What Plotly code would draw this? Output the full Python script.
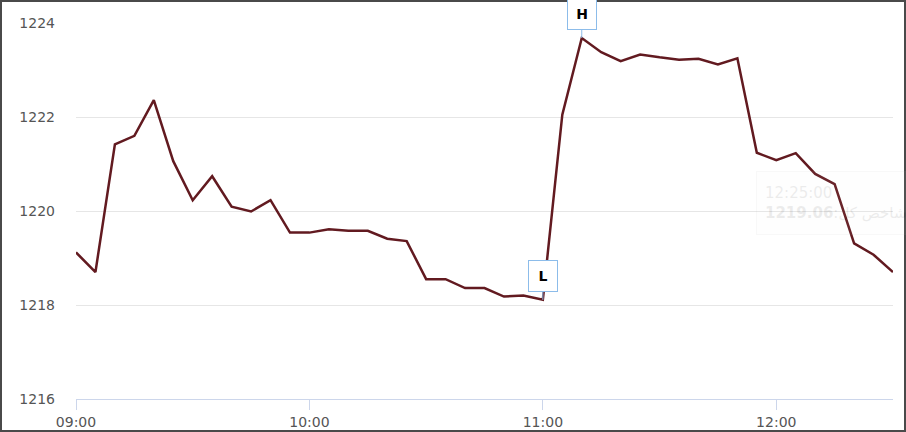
import plotly.graph_objects as go

# 5-minute index values
times = [
    "09:00", "09:05", "09:10", "09:15", "09:20", "09:25", "09:30", "09:35", "09:40", "09:45",
    "09:50", "09:55", "10:00", "10:05", "10:10", "10:15", "10:20", "10:25", "10:30", "10:35",
    "10:40", "10:45", "10:50", "10:55", "11:00", "11:05", "11:10", "11:15", "11:20", "11:25",
    "11:30", "11:35", "11:40", "11:45", "11:50", "11:55", "12:00", "12:05", "12:10", "12:15",
    "12:20", "12:25", "12:30",
]
values = [
    1219.12, 1218.70, 1221.42, 1221.60, 1222.36, 1221.06, 1220.23, 1220.74, 1220.09, 1219.99,
    1220.23, 1219.54, 1219.54, 1219.61, 1219.58, 1219.58, 1219.41, 1219.36, 1218.55, 1218.55,
    1218.36, 1218.36, 1218.18, 1218.20, 1218.11, 1222.05, 1223.68, 1223.38, 1223.19, 1223.33,
    1223.27, 1223.22, 1223.24, 1223.12, 1223.25, 1221.24, 1221.08, 1221.23, 1220.79, 1220.57,
    1219.31, 1219.07, 1218.70,
]
tick_vals = ["09:00", "10:00", "11:00", "12:00"]
y_ticks = [1216, 1218, 1220, 1222, 1224]
high_label, low_label = "H", "L"
tooltip_time = "12:25:00"
tooltip_value = "1219.06"
tooltip_name = "شاخص کل"

day = "2024-01-01 "
x = [day + t for t in times]

fig = go.Figure()
fig.add_trace(go.Scatter(
    x=x, y=values, mode="lines",
    line=dict(color="#621a20", width=2.5),
    hoverinfo="skip",
))

# high / low flags
hi = values.index(max(values))
lo = values.index(min(values))
for idx, lab in [(hi, high_label), (lo, low_label)]:
    fig.add_annotation(
        x=x[idx], y=values[idx], text="<b>" + lab + "</b>",
        showarrow=True, arrowhead=0, arrowwidth=1, arrowcolor="#8cbcea",
        ax=0, ay=-24, width=26, height=28, borderpad=1,
        bordercolor="#8cbcea", borderwidth=1, bgcolor="white",
        font=dict(family="DejaVu Sans", size=14, color="black"),
    )

# faded tooltip left over from hover
L, R, T, B = 76, 13, 23, 33
W, H = 906 - L - R, 432 - T - B
fig.add_annotation(
    xref="paper", yref="paper",
    x=(756 - L) / W, y=1 - (171 - T) / H,
    xanchor="left", yanchor="top", showarrow=False, align="left",
    text=tooltip_time + "<br><b>" + tooltip_value + "</b>:" + tooltip_name,
    width=170, height=46, borderpad=8,
    bgcolor="rgba(247,247,247,0.5)", bordercolor="#bbbbbb", borderwidth=1,
    font=dict(family="DejaVu Sans", size=15, color="#333333"),
    opacity=0.09,
)

# outer frame
fig.add_shape(
    type="rect", xref="paper", yref="paper",
    x0=-L / W, x1=(906 - L) / W, y0=-B / H, y1=1 + T / H,
    line=dict(color="#4a4a4a", width=4), layer="above",
)

fig.update_layout(
    width=906, height=432,
    margin=dict(l=L, r=R, t=T, b=B, autoexpand=False),
    paper_bgcolor="white", plot_bgcolor="white",
    showlegend=False,
    font=dict(family="DejaVu Sans", size=14, color="#555555"),
)
fig.update_xaxes(
    range=[day + "09:00", day + "12:30"],
    tickvals=[day + t for t in tick_vals], ticktext=tick_vals,
    showgrid=False, zeroline=False,
    showline=True, linecolor="#ccd6eb", linewidth=1,
    ticks="outside", ticklen=10, tickcolor="#ccd6eb",
    tickfont=dict(size=14, color="#555555"),
)
fig.update_yaxes(
    range=[1216, 1224], tickvals=y_ticks,
    showgrid=True, gridcolor="#e6e6e6", gridwidth=1,
    zeroline=False, showline=False,
    ticklabelstandoff=20,
    tickfont=dict(size=14, color="#555555"),
)

fig.write_html("out.html", config={"displayModeBar": False},
               post_script="document.body.style.margin='0';")
